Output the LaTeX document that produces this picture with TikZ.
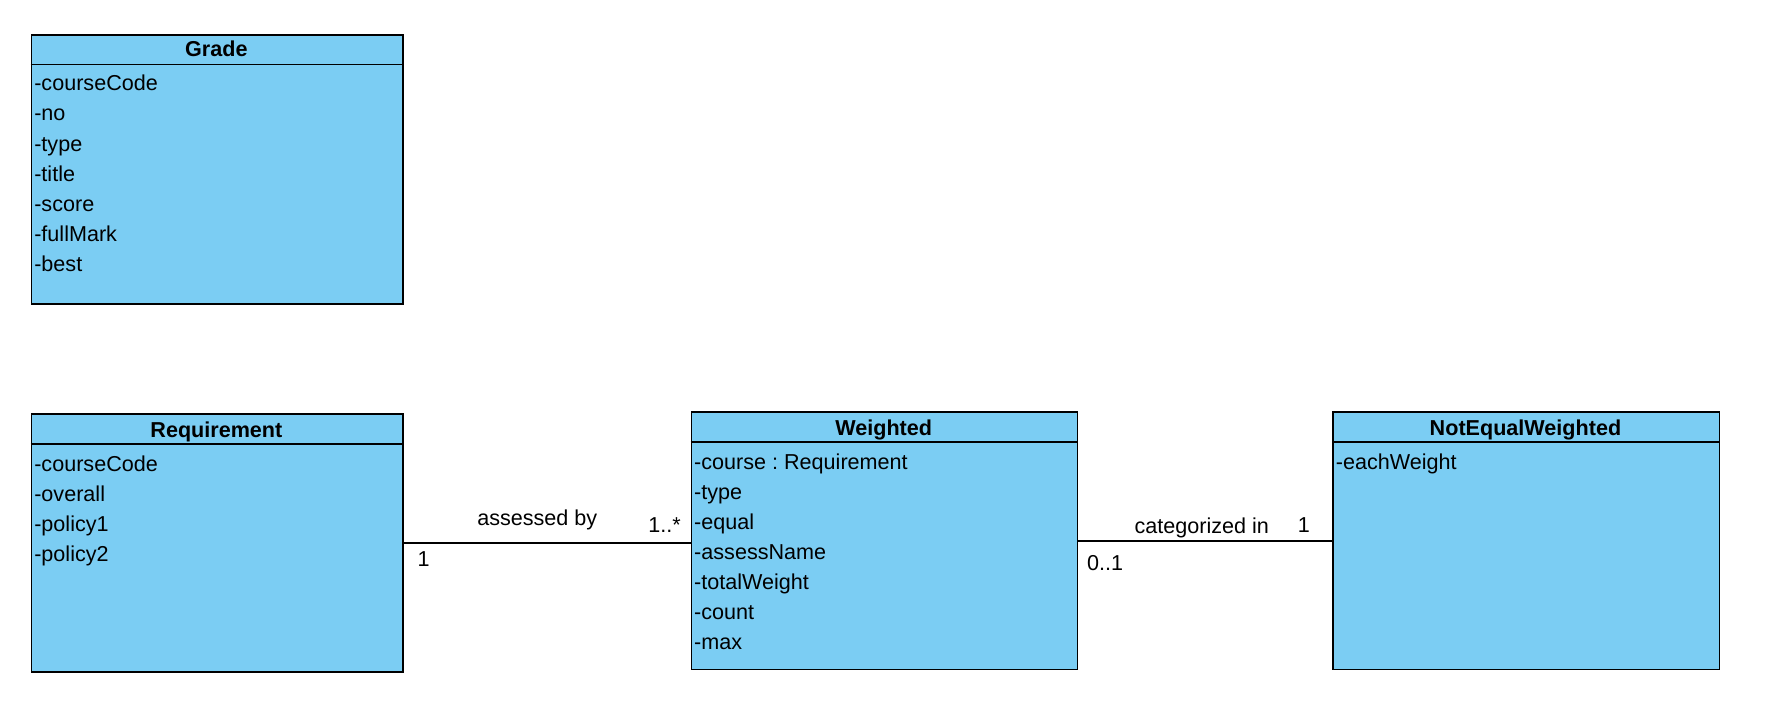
\documentclass[tikz,border=0pt]{standalone}
\usepackage{fontspec}
\setmainfont{Liberation Sans}
\frenchspacing
\definecolor{classfill}{HTML}{7BCDF3}
\begin{document}
\begin{tikzpicture}[x=1pt,y=-1pt,
  every node/.style={font=\fontsize{19}{23}\selectfont, inner sep=0pt},
  classbox/.style={draw=black, fill=classfill, line width=1.3pt, anchor=north west, rectangle},
  divider/.style={draw=black, line width=1.3pt},
  title/.style={anchor=base, font=\fontsize{19}{23}\selectfont\bfseries},
  attr/.style={anchor=base west},
  assoc/.style={draw=black, line width=1.3pt},
  mult/.style={anchor=base}
]
\useasboundingbox (0,0) rectangle (1568,635);

% Grade
\node[classbox, minimum width=327pt, minimum height=237pt] (grade) at (27,30) {};
\draw[divider] (27,57) -- (354,57);
\node[title] (gradeT) at (190.5,50) {Grade};
\node[attr] (g1) at (30,80) {-courseCode};
\node[attr] (g2) at (30,106.5) {-no};
\node[attr] (g3) at (30,133) {-type};
\node[attr] (g4) at (30,159.5) {-title};
\node[attr] (g5) at (30,186) {-score};
\node[attr] (g6) at (30,212.5) {-fullMark};
\node[attr] (g7) at (30,239) {-best};

% Requirement
\node[classbox, minimum width=327pt, minimum height=227pt] (req) at (27,364) {};
\draw[divider] (27,391) -- (354,391);
\node[title] (reqT) at (190.5,385) {Requirement};
\node[attr] (r1) at (30,415) {-courseCode};
\node[attr] (r2) at (30,441.5) {-overall};
\node[attr] (r3) at (30,468) {-policy1};
\node[attr] (r4) at (30,494.5) {-policy2};

% Weighted
\node[classbox, minimum width=340pt, minimum height=227pt] (wt) at (608,362) {};
\draw[divider] (608,389) -- (948,389);
\node[title] (wtT) at (778,383) {Weighted};
\node[attr] (w1) at (611,413) {-course : Requirement};
\node[attr] (w2) at (611,439.5) {-type};
\node[attr] (w3) at (611,466) {-equal};
\node[attr] (w4) at (611,492.5) {-assessName};
\node[attr] (w5) at (611,519) {-totalWeight};
\node[attr] (w6) at (611,545.5) {-count};
\node[attr] (w7) at (611,572) {-max};

% NotEqualWeighted
\node[classbox, minimum width=340pt, minimum height=227pt] (neq) at (1173,362) {};
\draw[divider] (1173,389) -- (1513,389);
\node[title] (neqT) at (1343,383) {NotEqualWeighted};
\node[attr] (n1) at (1176,413) {-eachWeight};

% associations
\draw[assoc] (req.east) -- (req.east -| wt.west);
\node[mult] (lab1) at (473,463) {assessed by};
\node[mult] (m1a) at (585,469) {1..*};
\node[mult] (m1b) at (373,499) {1};

\draw[assoc] (wt.east) -- (wt.east -| neq.west);
\node[mult] (lab2) at (1058,470) {categorized in};
\node[mult] (m2a) at (1148,469) {1};
\node[mult] (m2b) at (973,502) {0..1};
\end{tikzpicture}
\end{document}
